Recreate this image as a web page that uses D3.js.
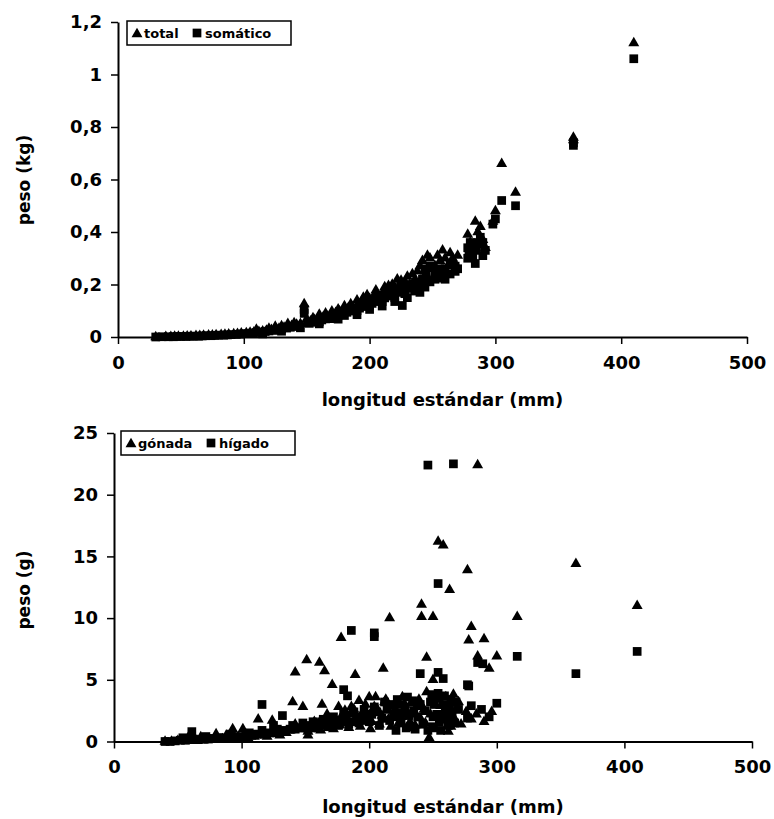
<!DOCTYPE html>
<html>
<head>
<meta charset="utf-8">
<script src="https://cdn.jsdelivr.net/npm/d3@7"></script>
<style>
  body { margin: 0; background: #fff; }
  text { font-family: "DejaVu Sans", Arial, sans-serif; font-weight: bold; fill: #000; }
</style>
</head>
<body>
<div id="chart"></div>
<script>
// longitud estándar (mm), peso (kg)
var totalPts = [
    [30, 0.000], [38, 0.001], [42, 0.001], [45, 0.002], [48, 0.002], [52, 0.002], [55, 0.003], [58, 0.003],
    [62, 0.004], [65, 0.004], [68, 0.005], [72, 0.006], [75, 0.006], [78, 0.007], [82, 0.008], [85, 0.009],
    [88, 0.010], [92, 0.011], [95, 0.012], [98, 0.014], [102, 0.015], [105, 0.017], [108, 0.018], [112, 0.020],
    [115, 0.022], [118, 0.024], [122, 0.027], [125, 0.030], [128, 0.032], [132, 0.036], [135, 0.040], [138, 0.043],
    [142, 0.047], [145, 0.050], [148, 0.125], [150, 0.055], [153, 0.060], [156, 0.065], [160, 0.070], [163, 0.075],
    [166, 0.080], [170, 0.085], [173, 0.092], [176, 0.098], [180, 0.105], [183, 0.110], [186, 0.115], [190, 0.122],
    [193, 0.130], [196, 0.135], [200, 0.145], [203, 0.150], [206, 0.158], [210, 0.165], [213, 0.175], [216, 0.180],
    [220, 0.190], [224, 0.200], [228, 0.210], [232, 0.200], [236, 0.220], [240, 0.270], [244, 0.250], [248, 0.300],
    [252, 0.270], [256, 0.290], [260, 0.300], [264, 0.320], [268, 0.280], [278, 0.390], [280, 0.360], [284, 0.440],
    [286, 0.400], [288, 0.420], [292, 0.340], [300, 0.480], [305, 0.660], [316, 0.550], [362, 0.760], [362, 0.750],
    [410, 1.120],
    [120, 0.032], [130, 0.042], [140, 0.053], [155, 0.072], [165, 0.090], [175, 0.105], [185, 0.125], [190, 0.140],
    [198, 0.160], [205, 0.170], [212, 0.190], [218, 0.200], [222, 0.220], [226, 0.190], [230, 0.230], [234, 0.240],
    [238, 0.250], [242, 0.290], [246, 0.310], [250, 0.260], [254, 0.310], [258, 0.330], [262, 0.270], [266, 0.300],
    [270, 0.310], [246, 0.230], [254, 0.220], [258, 0.250], [262, 0.240], [282, 0.330], [290, 0.370], [298, 0.440],
    [286, 0.350],
    [110, 0.028], [125, 0.040], [135, 0.050], [150, 0.068], [160, 0.085], [170, 0.098], [180, 0.118], [195, 0.150],
    [205, 0.178], [215, 0.195], [225, 0.215]
];
var somaticoPts = [
    [30, 0.000], [35, 0.001], [40, 0.001], [44, 0.001], [47, 0.002], [50, 0.002], [54, 0.002], [57, 0.003],
    [60, 0.003], [64, 0.003], [67, 0.004], [70, 0.005], [74, 0.005], [77, 0.006], [80, 0.007], [84, 0.007],
    [87, 0.008], [90, 0.009], [94, 0.010], [97, 0.011], [100, 0.013], [104, 0.014], [107, 0.015], [110, 0.017],
    [114, 0.019], [117, 0.021], [120, 0.023], [124, 0.025], [127, 0.028], [130, 0.031], [134, 0.034], [137, 0.037],
    [140, 0.040], [144, 0.043], [148, 0.105], [148, 0.090], [152, 0.052], [155, 0.056], [158, 0.060], [162, 0.065],
    [165, 0.069], [168, 0.073], [172, 0.078], [175, 0.083], [178, 0.088], [182, 0.094], [185, 0.099], [188, 0.104],
    [192, 0.110], [195, 0.116], [198, 0.122], [202, 0.128], [205, 0.135], [208, 0.142], [212, 0.149], [215, 0.156],
    [218, 0.163], [222, 0.170], [226, 0.120], [226, 0.178], [230, 0.185], [234, 0.190], [238, 0.200], [242, 0.220],
    [245, 0.240], [248, 0.210], [252, 0.250], [256, 0.230], [260, 0.260], [264, 0.280], [268, 0.250], [278, 0.340],
    [279, 0.320], [284, 0.280], [286, 0.360], [288, 0.380], [290, 0.310], [292, 0.330], [300, 0.450], [305, 0.520],
    [316, 0.500], [362, 0.740], [362, 0.730], [410, 1.060],
    [160, 0.058], [170, 0.070], [180, 0.082], [190, 0.100], [200, 0.120], [210, 0.135], [220, 0.150], [228, 0.165],
    [232, 0.200], [236, 0.175], [240, 0.210], [244, 0.190], [248, 0.270], [252, 0.220], [256, 0.260], [260, 0.220],
    [264, 0.240], [268, 0.270], [270, 0.260], [244, 0.260], [282, 0.310], [285, 0.330], [290, 0.360], [298, 0.430],
    [278, 0.300], [280, 0.360],
    [115, 0.012], [130, 0.022], [145, 0.035], [160, 0.050], [175, 0.068], [190, 0.085], [200, 0.105], [210, 0.118],
    [220, 0.135], [230, 0.150], [240, 0.170]
];
// longitud estándar (mm), peso (g)
var gonadaPts = [
    [285, 22.4], [254, 16.2], [258, 15.9], [277, 13.9], [263, 12.3], [241, 11.1], [241, 10.1], [250, 10.1],
    [216, 10.0], [316, 10.1], [362, 14.4], [410, 11.0], [178, 8.4], [280, 9.3], [278, 8.2], [290, 8.3],
    [151, 6.6], [142, 5.6], [161, 6.4], [165, 5.7], [189, 5.4], [211, 5.9], [245, 6.8], [300, 6.9],
    [285, 6.9], [294, 5.9], [171, 4.6], [250, 5.0], [245, 4.0], [266, 3.8], [266, 2.0], [264, 1.2],
    [247, 0.3], [140, 3.2], [148, 2.8], [163, 3.0], [176, 2.8], [186, 2.8], [192, 3.3], [200, 3.6],
    [205, 3.6], [213, 3.4], [237, 2.8], [113, 1.8], [124, 1.7], [80, 0.6], [93, 1.0], [101, 1.0],
    [40, 0.0], [45, 0.0], [50, 0.05], [55, 0.05], [60, 0.1], [65, 0.1], [70, 0.1], [75, 0.15],
    [85, 0.2], [90, 0.2], [97, 0.3], [105, 0.3], [110, 0.4], [118, 0.5], [120, 0.4], [128, 0.6],
    [130, 0.5], [135, 0.7], [138, 0.9], [145, 1.0], [150, 1.1], [152, 0.8], [155, 1.3], [158, 1.0],
    [160, 1.5], [165, 1.2], [168, 1.8], [170, 1.4], [175, 1.6], [178, 2.0], [182, 1.5], [185, 2.2],
    [190, 1.8], [195, 2.4], [198, 2.0], [202, 1.6], [207, 2.5], [210, 2.1], [215, 1.8], [220, 2.6],
    [225, 2.0], [228, 3.0], [232, 1.6], [235, 2.2], [240, 1.9], [243, 2.6], [255, 3.4], [258, 2.4],
    [270, 3.2], [280, 1.8],
    [58, 0.3], [68, 0.35], [88, 0.5], [102, 0.6], [115, 0.7], [125, 0.9], [142, 1.4],
    [152, 0.5], [157, 1.6], [162, 0.9], [167, 2.2], [172, 1.0], [177, 1.3], [181, 2.5], [184, 1.1],
    [188, 2.6], [193, 1.2], [197, 3.0], [201, 1.0], [204, 2.8], [208, 1.4], [212, 3.2], [217, 1.2],
    [219, 2.9], [223, 1.5], [226, 3.6], [230, 2.4], [233, 3.1], [236, 1.3], [239, 3.4], [244, 1.5],
    [248, 2.2], [252, 1.0], [256, 2.9], [260, 3.6], [262, 0.8], [268, 2.6], [272, 1.4], [276, 2.4],
    [284, 2.2], [290, 1.6], [296, 2.4]
];
var higadoPts = [
    [246, 22.4], [266, 22.5], [186, 9.0], [204, 8.8], [204, 8.5], [254, 12.8], [240, 5.5], [254, 5.6],
    [258, 5.1], [316, 6.9], [285, 6.4], [289, 6.3], [277, 4.6], [180, 4.2], [183, 3.7], [410, 7.3],
    [362, 5.5], [300, 3.1], [278, 4.5], [280, 2.9], [277, 1.9], [288, 2.6], [294, 2.0], [116, 3.0],
    [132, 2.1], [125, 1.3], [61, 0.8],
    [40, 0.0], [44, 0.0], [48, 0.05], [52, 0.1], [56, 0.1], [62, 0.15], [66, 0.15], [70, 0.2],
    [74, 0.2], [78, 0.25], [82, 0.3], [86, 0.3], [90, 0.3], [95, 0.4], [100, 0.4], [104, 0.5],
    [108, 0.5], [112, 0.6], [118, 0.6], [122, 0.7], [126, 0.8], [130, 0.8], [134, 0.9], [138, 1.0],
    [142, 1.0], [146, 1.1], [150, 1.2], [154, 1.3], [158, 1.3], [162, 1.4], [166, 1.5], [170, 1.5],
    [174, 1.6], [178, 1.7], [182, 1.8], [186, 1.6], [190, 1.9], [194, 2.0], [198, 1.7], [202, 2.2],
    [206, 2.4], [210, 1.9], [214, 2.6], [218, 3.0], [220, 2.2], [222, 3.4], [225, 1.5], [228, 2.8],
    [230, 3.6], [232, 1.2], [235, 2.5], [238, 2.0], [242, 1.4], [248, 3.2], [250, 2.0], [252, 3.6],
    [255, 1.6], [258, 3.0], [260, 2.4], [262, 1.3], [264, 3.4], [250, 1.2], [256, 0.9],
    [54, 0.3], [72, 0.4], [92, 0.6], [106, 0.7], [116, 0.9], [128, 1.0], [140, 1.3], [148, 1.5],
    [152, 1.0], [156, 1.6], [160, 1.1], [164, 1.8], [168, 1.2], [172, 2.0], [176, 1.3], [180, 2.2],
    [184, 1.4], [188, 2.4], [192, 1.5], [196, 2.6], [200, 1.6], [204, 2.8], [208, 1.3], [212, 3.2],
    [216, 1.7], [219, 2.0], [221, 0.9], [224, 3.0], [226, 2.3], [229, 1.1], [231, 2.1], [234, 3.3],
    [236, 1.0], [240, 3.0], [244, 2.5], [246, 0.9], [249, 3.8], [251, 3.0], [253, 2.2], [254, 3.9],
    [256, 2.0], [259, 3.7], [261, 1.8], [263, 2.9], [265, 2.2], [267, 1.5], [268, 3.2], [270, 2.6]
];

var xTicks = [0, 100, 200, 300, 400, 500];
var yTicksTop = [0, 0.2, 0.4, 0.6, 0.8, 1, 1.2];
var yTicksBottom = [0, 5, 10, 15, 20, 25];
var legendTop = ['total', 'somático'];
var legendBottom = ['gónada', 'hígado'];

var chart_width = 774;
var chart_height = 819;

var svg = d3.select('#chart')
    .append('svg')
    .attr('width', chart_width)
    .attr('height', chart_height);

var tri = d3.symbol().type(d3.symbolTriangle).size(52);
var sq = d3.symbol().type(d3.symbolSquare).size(76);

function drawPanel(p) {
    var x_scale = d3.scaleLinear().domain([0, 500]).range([p.left, p.right]);
    var y_scale = d3.scaleLinear().domain([0, p.ymax]).range([p.bottom, p.top]);

    // ejes
    var xa = svg.append('g')
        .attr('transform', 'translate(0,' + p.bottom + ')')
        .call(d3.axisBottom(x_scale).tickValues(xTicks).tickSize(7).tickPadding(12).tickSizeOuter(0));
    var ya = svg.append('g')
        .attr('transform', 'translate(' + p.left + ',0)')
        .call(d3.axisLeft(y_scale).tickValues(p.yTicks).tickSize(7).tickPadding(9).tickSizeOuter(0)
            .tickFormat(function (d) { return String(+d.toFixed(1)).replace('.', ','); }));
    [xa, ya].forEach(function (a) {
        a.select('.domain').attr('stroke', '#000').attr('stroke-width', 2);
        a.selectAll('.tick line').attr('stroke', '#000').attr('stroke-width', 1.5);
        a.selectAll('.tick text').style('font-size', '18px');
    });

    // puntos
    svg.append('g').selectAll('path')
        .data(p.squares)
        .enter()
        .append('path')
        .attr('d', sq)
        .attr('transform', function (d) {
            return 'translate(' + x_scale(d[0]) + ',' + y_scale(d[1]) + ')';
        })
        .attr('fill', '#000');
    svg.append('g').selectAll('path')
        .data(p.triangles)
        .enter()
        .append('path')
        .attr('d', tri)
        .attr('transform', function (d) {
            return 'translate(' + x_scale(d[0]) + ',' + y_scale(d[1]) + ')';
        })
        .attr('fill', '#000');

    // titulos
    svg.append('text')
        .attr('x', (p.left + p.right) / 2 + 10)
        .attr('y', p.xTitleY)
        .attr('text-anchor', 'middle')
        .style('font-size', '18px')
        .text('longitud estándar (mm)');
    svg.append('text')
        .attr('transform', 'translate(30,' + p.yTitleMid + ') rotate(-90)')
        .attr('text-anchor', 'middle')
        .style('font-size', '17px')
        .text(p.yTitle);

    // leyenda
    var lg = svg.append('g').attr('transform', 'translate(' + p.legX + ',' + p.legY + ')');
    lg.append('rect')
        .attr('width', p.legW).attr('height', 24)
        .attr('fill', '#fff').attr('stroke', '#000').attr('stroke-width', 1.5);
    lg.append('path').attr('d', tri).attr('transform', 'translate(10,13)').attr('fill', '#000');
    lg.append('text').attr('x', 17).attr('y', 17).style('font-size', '13px').text(p.legend[0]);
    lg.append('path').attr('d', sq).attr('transform', 'translate(' + p.legSq + ',12)').attr('fill', '#000');
    lg.append('text').attr('x', p.legSq + 8).attr('y', 17).style('font-size', '13px').text(p.legend[1]);
}

drawPanel({
    left: 118, right: 747, top: 22, bottom: 337, ymax: 1.2, yTicks: yTicksTop,
    triangles: totalPts, squares: somaticoPts,
    xTitleY: 406, yTitle: 'peso (kg)', yTitleMid: 180,
    legX: 127, legY: 21, legW: 164, legSq: 70, legend: legendTop
});
drawPanel({
    left: 114, right: 752, top: 433, bottom: 741.5, ymax: 25, yTicks: yTicksBottom,
    triangles: gonadaPts, squares: higadoPts,
    xTitleY: 813, yTitle: 'peso (g)', yTitleMid: 590,
    legX: 121, legY: 431, legW: 174, legSq: 90, legend: legendBottom
});
</script>
</body>
</html>
